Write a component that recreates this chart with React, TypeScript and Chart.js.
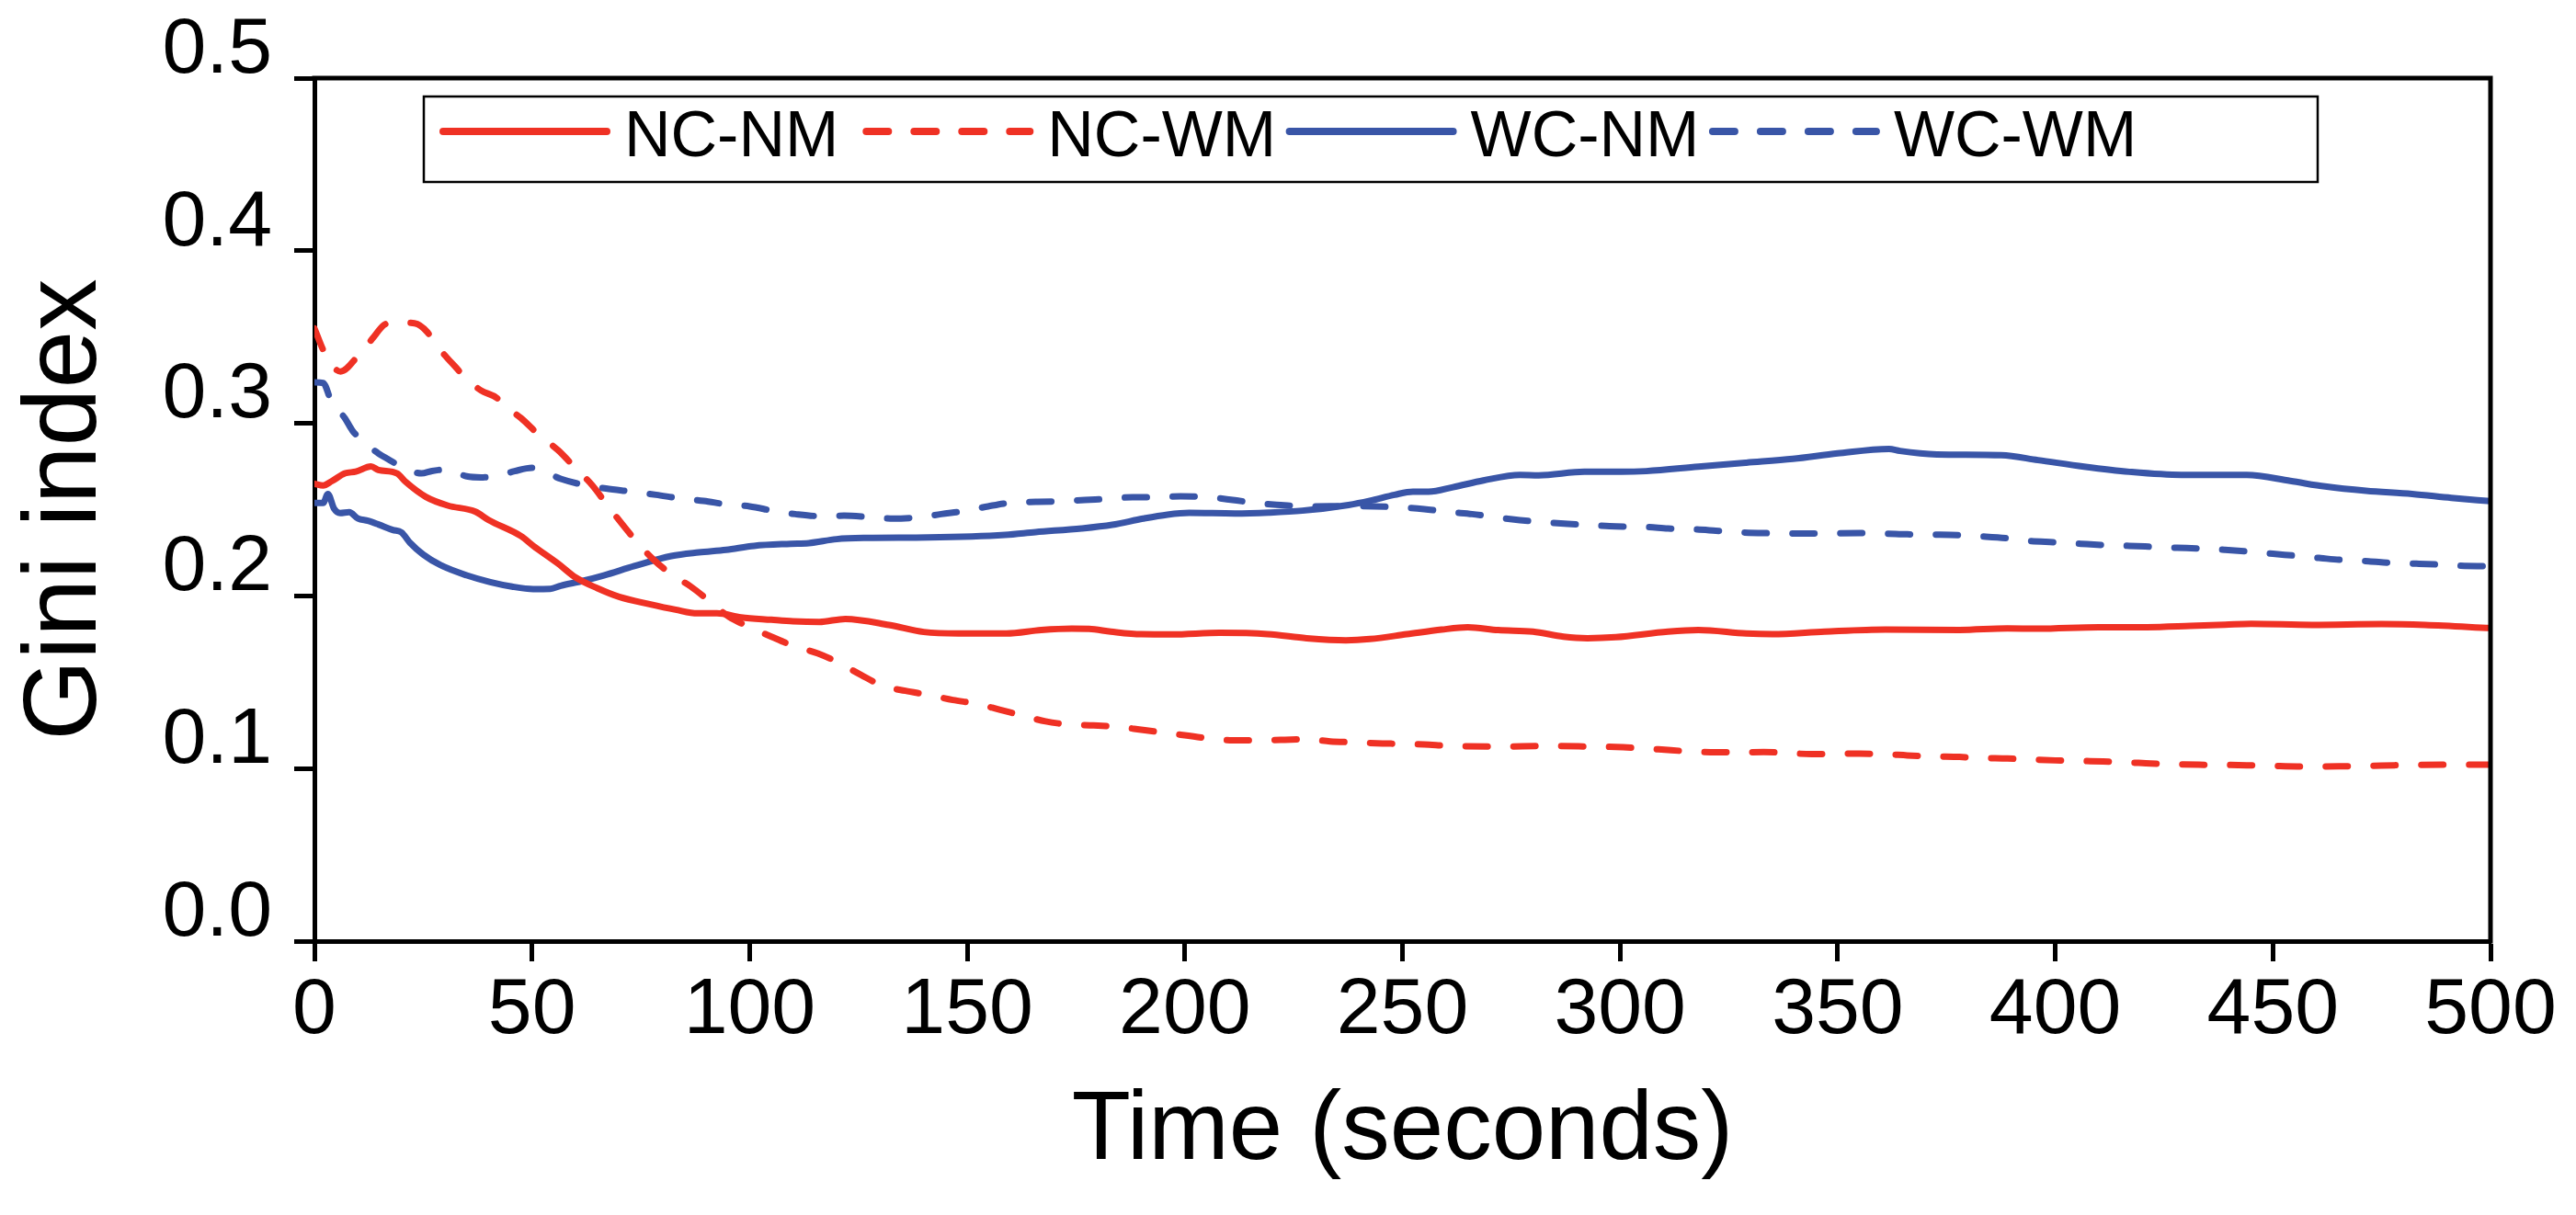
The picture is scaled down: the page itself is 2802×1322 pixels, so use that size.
import React, { useEffect, useRef } from "react";
import { Chart, registerables } from "chart.js";

Chart.register(...registerables);

// ---- Data ----
const seriesLabels = ["NC-NM", "NC-WM", "WC-NM", "WC-WM"];

const ncNmTime = [0, 2, 4, 7, 9.5, 13, 14.7, 19, 21, 25.6, 30.6, 37, 40, 47.5, 50.3, 56, 60, 65, 70, 77, 83, 88, 92.5, 98, 105, 110, 116, 122, 132, 140, 148, 159, 167, 174, 178, 183, 190, 197, 208, 219, 228, 237, 242.5, 251, 259, 265, 272, 280, 287, 292.5, 299, 311, 318, 329, 335, 347, 361, 378, 389, 396, 410, 421, 431, 439, 445, 459, 475, 485, 500];
const ncNmGini = [0.265, 0.264, 0.2665, 0.271, 0.272, 0.275, 0.273, 0.271, 0.266, 0.2574, 0.2524, 0.2488, 0.244, 0.2346, 0.229, 0.2187, 0.2107, 0.2045, 0.1995, 0.1952, 0.192, 0.1899, 0.1899, 0.1876, 0.1862, 0.1853, 0.1849, 0.1867, 0.1832, 0.1791, 0.1782, 0.1782, 0.1802, 0.181, 0.1809, 0.1793, 0.1778, 0.1777, 0.1786, 0.1779, 0.1755, 0.1743, 0.175, 0.1778, 0.1805, 0.1818, 0.1802, 0.1793, 0.1764, 0.1755, 0.1761, 0.1793, 0.1802, 0.1782, 0.1778, 0.1793, 0.1805, 0.1803, 0.1812, 0.181, 0.1819, 0.1819, 0.1826, 0.1833, 0.1839, 0.1832, 0.1837, 0.1832, 0.1814];

const ncWmTime = [0, 2.7, 6, 10, 13.3, 16, 18, 23, 26, 27, 30.6, 32.3, 34.4, 38.3, 42, 43.2, 47.5, 51.7, 56, 60, 63.7, 67.2, 70.4, 74.2, 77.8, 82, 86.5, 91, 95.4, 98.2, 105, 110, 115.7, 120.3, 125.6, 130.5, 135.8, 141, 146.7, 152, 157.6, 162.6, 168, 173.5, 179, 185, 190.4, 195.7, 205.5, 211, 217, 222, 228, 233.4, 239, 244, 250, 255, 261, 272, 283, 294, 299, 306, 311, 317, 322, 333, 344, 355, 361, 366, 372, 378, 383, 389, 394, 400, 406, 411, 417, 422, 428, 433, 439, 444, 450, 455.5, 461, 466, 472, 478, 483, 489, 500];
const ncWmGini = [0.355, 0.339, 0.33, 0.339, 0.349, 0.357, 0.3585, 0.358, 0.3527, 0.3486, 0.3376, 0.333, 0.327, 0.319, 0.3145, 0.311, 0.303, 0.293, 0.2844, 0.274, 0.2645, 0.253, 0.2426, 0.231, 0.2213, 0.2125, 0.2054, 0.1965, 0.1876, 0.184, 0.1764, 0.1711, 0.1667, 0.1615, 0.1542, 0.148, 0.145, 0.1427, 0.1397, 0.1376, 0.134, 0.1308, 0.1273, 0.1255, 0.125, 0.1241, 0.1223, 0.1207, 0.1175, 0.1164, 0.1164, 0.1166, 0.117, 0.1157, 0.1152, 0.1146, 0.1143, 0.1139, 0.1131, 0.1127, 0.1131, 0.1127, 0.1125, 0.1116, 0.1107, 0.1098, 0.1094, 0.1095, 0.1084, 0.1086, 0.1083, 0.1076, 0.107, 0.1067, 0.1061, 0.1058, 0.1053, 0.1047, 0.1044, 0.1041, 0.1035, 0.1029, 0.1025, 0.1022, 0.1021, 0.1019, 0.1015, 0.1012, 0.1012, 0.1013, 0.1015, 0.1019, 0.1021, 0.1022, 0.1022];

const wcNmTime = [0, 2, 3.1, 4.5, 5.9, 8, 10, 12.3, 14.7, 18, 20, 22, 25, 29, 35, 40.4, 45.4, 50.3, 54.2, 56.6, 61.5, 66.5, 73.5, 82, 88.3, 94.6, 101, 109.4, 113.6, 120, 127, 141, 158.7, 165.7, 176.3, 183.3, 190.4, 196, 201, 211.5, 219.3, 227, 237.6, 242.5, 248.2, 252.4, 256, 261.6, 268.6, 277, 281.3, 291.8, 300.3, 306, 318, 329, 339.7, 350, 361.8, 364.3, 372.8, 387.6, 396, 406.6, 417, 429, 444, 454, 462, 471.4, 482, 491, 500];
const wcNmGini = [0.2538, 0.2538, 0.2591, 0.2506, 0.248, 0.2485, 0.2449, 0.2435, 0.2414, 0.2382, 0.2368, 0.2307, 0.224, 0.2178, 0.2119, 0.208, 0.2054, 0.204, 0.2041, 0.2059, 0.2086, 0.2119, 0.2173, 0.2231, 0.2252, 0.2267, 0.229, 0.2302, 0.2306, 0.2329, 0.2336, 0.2339, 0.2354, 0.237, 0.2391, 0.2412, 0.2448, 0.2471, 0.2481, 0.2478, 0.2483, 0.2494, 0.2527, 0.2551, 0.2586, 0.2604, 0.2604, 0.263, 0.2669, 0.2701, 0.2698, 0.2719, 0.2719, 0.2723, 0.2749, 0.2772, 0.2794, 0.2826, 0.2852, 0.284, 0.282, 0.2815, 0.2787, 0.2749, 0.2719, 0.2701, 0.2701, 0.2666, 0.2634, 0.2609, 0.2591, 0.2568, 0.2549];

const wcWmTime = [0, 2, 3.9, 7, 8.7, 10.5, 14.7, 16.8, 19.6, 24.6, 27, 30.2, 35, 38.3, 41, 46, 50, 51.7, 56.6, 62, 67, 73, 78.5, 84, 89.4, 95, 100, 105.6, 110.5, 116.4, 121.7, 127.7, 133, 139, 144, 150, 154.8, 160.8, 165.7, 171.7, 177, 183, 188, 194, 199, 205.5, 211, 217, 222, 228, 239, 250, 255, 261, 266, 272, 277, 283, 288, 294, 299, 306, 311, 317, 322, 328, 333, 344, 355, 361, 366, 372, 378, 383, 389, 394, 400, 406, 411, 417, 422, 428, 433, 439, 444, 450, 455.5, 461, 466, 472, 477, 483, 489, 494, 500];
const wcWmGini = [0.3237, 0.3234, 0.3127, 0.303, 0.2959, 0.2911, 0.2826, 0.2794, 0.2755, 0.271, 0.2724, 0.2732, 0.2693, 0.2687, 0.2689, 0.2723, 0.2742, 0.2733, 0.2678, 0.2643, 0.2622, 0.2604, 0.2586, 0.2565, 0.2551, 0.2529, 0.2519, 0.2492, 0.2474, 0.2462, 0.2465, 0.2456, 0.2448, 0.2456, 0.2474, 0.2494, 0.2519, 0.2542, 0.2545, 0.2549, 0.2556, 0.2563, 0.2572, 0.2572, 0.2577, 0.2572, 0.2556, 0.2536, 0.2527, 0.2519, 0.252, 0.2513, 0.2503, 0.2485, 0.2474, 0.2453, 0.2439, 0.2426, 0.2417, 0.2409, 0.2403, 0.24, 0.2391, 0.2386, 0.2378, 0.2368, 0.2364, 0.2361, 0.2364, 0.2361, 0.2357, 0.2355, 0.2352, 0.2345, 0.2334, 0.2318, 0.2311, 0.2302, 0.2295, 0.229, 0.2285, 0.2279, 0.2275, 0.2267, 0.2258, 0.2244, 0.2232, 0.2219, 0.2208, 0.2201, 0.2192, 0.2187, 0.2181, 0.2174, 0.2173];

const xTicks = [0, 50, 100, 150, 200, 250, 300, 350, 400, 450, 500];
const yTicks = [0.0, 0.1, 0.2, 0.3, 0.4, 0.5];
const xTitle = "Time (seconds)";
const yTitle = "Gini index";

const RED = "#ef3124";
const BLUE = "#3955a7";
const FONT = '"Liberation Sans", Arial, Helvetica, sans-serif';

function toPoints(t: number[], v: number[]) {
  return t.map((x, i) => ({ x, y: v[i] }));
}

const frameAndLegend = {
  id: "frameAndLegend",
  afterDatasetsDraw(chart: any) {
    const { ctx, chartArea } = chart;
    ctx.save();
    ctx.strokeStyle = "#000";
    ctx.lineWidth = 5;
    ctx.lineCap = "square";
    ctx.beginPath();
    ctx.moveTo(chartArea.left, chartArea.top);
    ctx.lineTo(chartArea.right, chartArea.top);
    ctx.lineTo(chartArea.right, chartArea.bottom);
    ctx.stroke();
    ctx.restore();
  },
  afterDraw(chart: any) {
    const { ctx, chartArea } = chart;
    const L = chartArea.left;
    const T = chartArea.top;
    ctx.save();
    ctx.strokeStyle = "#000";
    ctx.lineWidth = 2.5;
    ctx.strokeRect(L + 119, T + 20, 2060, 93);
    chart.data.datasets.forEach((ds: any, i: number) => {
      const x0 = L + 140 + i * 460.3;
      const y = T + 58;
      ctx.beginPath();
      ctx.setLineDash(ds.borderDash || []);
      ctx.lineWidth = 8;
      ctx.lineCap = "round";
      ctx.strokeStyle = ds.borderColor;
      ctx.moveTo(x0, y);
      ctx.lineTo(x0 + 178, y);
      ctx.stroke();
      ctx.setLineDash([]);
      ctx.fillStyle = "#000";
      ctx.font = `70px ${FONT}`;
      ctx.textBaseline = "alphabetic";
      ctx.textAlign = "left";
      ctx.fillText(ds.label, x0 + 197, T + 85);
    });
    ctx.restore();
  },
};

export default function App() {
  const canvasRef = useRef<HTMLCanvasElement | null>(null);

  useEffect(() => {
    if (!canvasRef.current) return;
    const common = {
      pointRadius: 0,
      borderWidth: 7,
      fill: false,
      tension: 0,
      cubicInterpolationMode: "monotone" as const,
      borderCapStyle: "round" as const,
      borderJoinStyle: "round" as const,
    };
    const dash = [24, 28];
    const chart = new Chart(canvasRef.current, {
      type: "line",
      data: {
        datasets: [
          { ...common, label: seriesLabels[0], data: toPoints(ncNmTime, ncNmGini), borderColor: RED },
          { ...common, label: seriesLabels[1], data: toPoints(ncWmTime, ncWmGini), borderColor: RED, borderDash: dash },
          { ...common, label: seriesLabels[2], data: toPoints(wcNmTime, wcNmGini), borderColor: BLUE },
          { ...common, label: seriesLabels[3], data: toPoints(wcWmTime, wcWmGini), borderColor: BLUE, borderDash: dash },
        ],
      },
      options: {
        responsive: false,
        animation: false,
        devicePixelRatio: 1,
        events: [],
        layout: { padding: { left: 0, top: 85, right: 93, bottom: 0 } },
        plugins: { legend: { display: false }, tooltip: { enabled: false } },
        scales: {
          x: {
            type: "linear",
            min: 0,
            max: 500,
            afterFit: (s: any) => { s.height = 298; },
            afterBuildTicks: (s: any) => { s.ticks = xTicks.map((v) => ({ value: v })); },
            ticks: {
              color: "#000",
              font: { family: FONT, size: 86 },
              padding: 3,
              maxRotation: 0,
              autoSkip: false,
              callback: (v: any) => String(v),
            },
            grid: { display: true, drawOnChartArea: false, drawTicks: true, tickLength: 22, tickWidth: 5, tickColor: "#000" },
            border: { display: true, width: 5, color: "#000" },
            title: {
              display: true,
              text: xTitle,
              color: "#000",
              font: { family: FONT, size: 105 },
              padding: { top: 0, bottom: 27 },
            },
          },
          y: {
            type: "linear",
            min: 0,
            max: 0.5,
            afterFit: (s: any) => { s.width = 342; },
            afterBuildTicks: (s: any) => { s.ticks = yTicks.map((v) => ({ value: v })); },
            ticks: {
              color: "#000",
              font: { family: FONT, size: 86 },
              padding: 24,
              labelOffset: -30,
              autoSkip: false,
              callback: (v: any) => Number(v).toFixed(1),
            },
            grid: { display: true, drawOnChartArea: false, drawTicks: true, tickLength: 22, tickWidth: 5, tickColor: "#000" },
            border: { display: true, width: 5, color: "#000" },
            title: {
              display: true,
              text: yTitle,
              color: "#000",
              font: { family: FONT, size: 113 },
              padding: { top: 5, bottom: 0 },
            },
          },
        },
      },
      plugins: [frameAndLegend],
    } as any);
    return () => chart.destroy();
  }, []);

  return (
    <div style={{ position: "absolute", left: 0, top: 0, width: 2802, height: 1322, background: "#fff" }}>
      <canvas ref={canvasRef} width={2802} height={1322} style={{ display: "block", width: 2802, height: 1322 }} />
    </div>
  );
}
